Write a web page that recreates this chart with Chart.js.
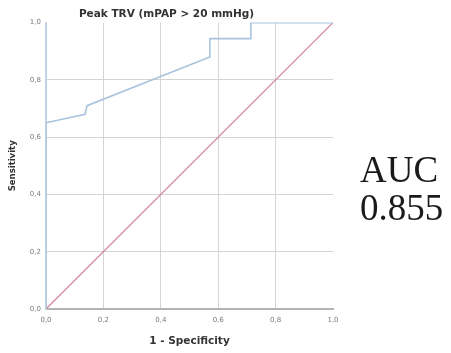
<!DOCTYPE html>
<html>
<head>
<meta charset="utf-8">
<script src="https://cdn.jsdelivr.net/npm/chart.js@4"></script>
<style>
  body { margin: 0; background: #fff; }
  #wrap { position: relative; width: 451px; height: 353px; }
  .auc { position: absolute; left: 360px; font-family: "Liberation Serif", serif; font-size: 37px; line-height: 37px; color: #1a1a1a; }
</style>
</head>
<body>
<div id="wrap">
  <canvas id="roc" width="451" height="353"></canvas>
  <div class="auc" style="top:151px">AUC</div>
  <div class="auc" style="top:189px">0.855</div>
</div>
<script>
// ROC curve points (1 - specificity, sensitivity)
const fpr = [0, 0, 0.136, 0.143, 0.571, 0.571, 0.714, 0.714, 1.0];
const tpr = [0, 0.65, 0.68, 0.71, 0.88, 0.944, 0.944, 1.0, 1.0];
// reference line
const refX = [0, 1];
const refY = [0, 1];
const tickValues = [0, 0.2, 0.4, 0.6, 0.8, 1.0];

const fmt = v => Number(v).toFixed(1).replace('.', ',');
const gridCol = ctx => (ctx.tick && ctx.tick.value === 1) ? 'rgba(0,0,0,0)' : '#d4d4d4';

new Chart(document.getElementById('roc'), {
  type: 'scatter',
  data: {
    datasets: [
      {
        data: fpr.map((x, i) => ({ x: x, y: tpr[i] })),
        showLine: true,
        borderColor: '#a9c3df',
        borderWidth: 1.6,
        pointRadius: 0,
        tension: 0
      },
      {
        data: refX.map((x, i) => ({ x: x, y: refY[i] })),
        showLine: true,
        borderColor: '#d8899a',
        borderWidth: 1.3,
        pointRadius: 0
      }
    ]
  },
  options: {
    responsive: false,
    animation: false,
    layout: { padding: { left: 0, right: 118, top: 0, bottom: 0 } },
    plugins: {
      legend: { display: false },
      tooltip: { enabled: false },
      title: {
        display: true,
        text: 'Peak TRV (mPAP > 20 mmHg)',
        color: '#333',
        font: { family: 'DejaVu Sans', size: 10.5, weight: 'bold' },
        padding: { top: 8, bottom: 2 }
      }
    },
    scales: {
      x: {
        type: 'linear', min: 0, max: 1,
        afterBuildTicks: s => { s.ticks = tickValues.map(v => ({ value: v })); },
        afterFit: s => { s.height = 44; },
        ticks: { callback: fmt, color: '#7a7a7a', font: { family: 'DejaVu Sans', size: 7 }, padding: 7, maxRotation: 0 },
        grid: { color: gridCol, drawTicks: false },
        border: { color: '#b4b4b4', width: 2 },
        title: {
          display: true, text: '1 - Specificity', color: '#333',
          font: { family: 'DejaVu Sans', size: 10.5, weight: 'bold' },
          padding: { top: 0, bottom: 5 }
        }
      },
      y: {
        type: 'linear', min: 0, max: 1,
        afterBuildTicks: s => { s.ticks = tickValues.map(v => ({ value: v })); },
        afterFit: s => { s.width = 46; },
        ticks: { callback: fmt, color: '#7a7a7a', font: { family: 'DejaVu Sans', size: 7 }, padding: 5 },
        grid: { color: gridCol, drawTicks: false },
        border: { color: '#c3d3e6', width: 2 },
        title: {
          display: true, text: 'Sensitivity', color: '#333',
          font: { family: 'DejaVu Sans', size: 8.5, weight: 'bold' },
          padding: { top: 8, bottom: 0 }
        }
      }
    }
  }
});
</script>
</body>
</html>
